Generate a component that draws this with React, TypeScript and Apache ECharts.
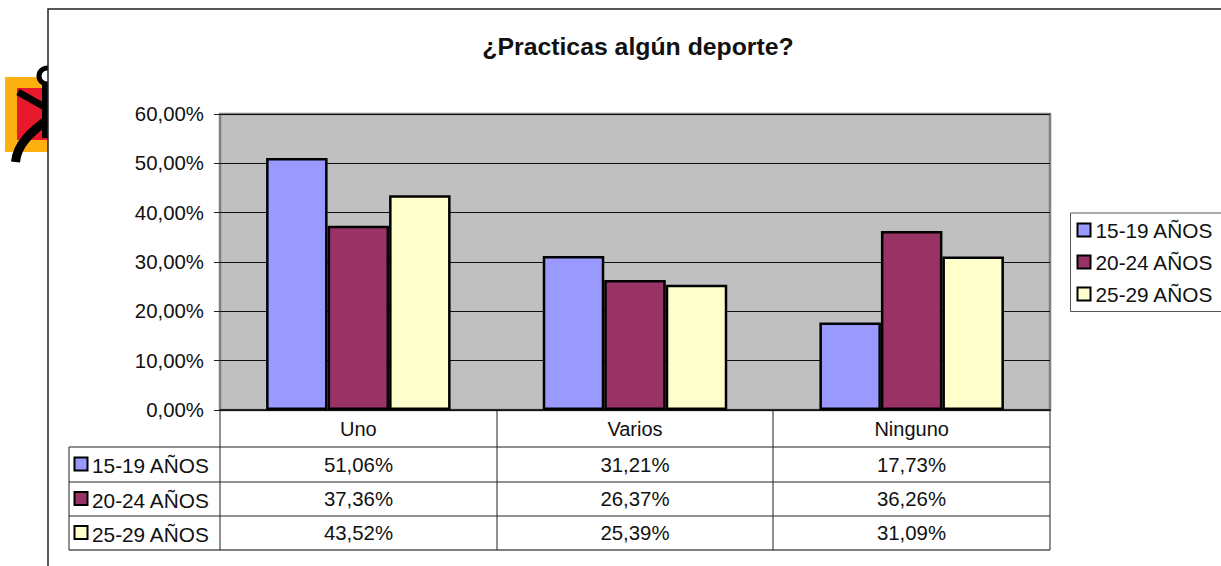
import React, { useEffect, useRef } from "react";
import * as echarts from "echarts";

const titleText = "¿Practicas algún deporte?";
const categories = ["Uno", "Varios", "Ninguno"];
const seriesNames = ["15-19 AÑOS", "20-24 AÑOS", "25-29 AÑOS"];
const values1519 = [51.06, 31.21, 17.73];
const values2024 = [37.36, 26.37, 36.26];
const values2529 = [43.52, 25.39, 31.09];
const seriesColors = ["#9999FF", "#993366", "#FFFFCC"];

const FONT = "'Liberation Sans', Arial, sans-serif";
const fmt = (v: number) => v.toFixed(2).replace(".", ",") + "%";

const X0 = 220, X1 = 1050, Y0 = 114, Y1 = 410;
const colX = [220, 497, 773, 1050];
const rowY = [447, 482, 516, 550];

export default function App() {
  const ref = useRef<HTMLDivElement>(null);
  useEffect(() => {
    document.body.style.margin = "0";
    const chart = echarts.init(ref.current!, null, { renderer: "svg" });
    const allValues = [values1519, values2024, values2529];
    const line = (x1: number, y1: number, x2: number, y2: number, stroke = "#222", lineWidth = 1, z = 0) => ({
      type: "line", z, shape: { x1, y1, x2, y2 }, style: { stroke, lineWidth }, silent: true,
    });
    const graphic: any[] = [
      { type: "rect", z: -9, shape: { x: 5, y: 77, width: 50, height: 75 }, style: { fill: "#FDB010" } },
      { type: "rect", z: -9, shape: { x: 17, y: 88, width: 38, height: 52 }, style: { fill: "#E8192C" } },
      { type: "circle", z: -9, shape: { cx: 47, cy: 76, r: 8 }, style: { fill: "#fff", stroke: "#000", lineWidth: 5 } },
      line(18, 92, 50, 110, "#000", 7, -9),
      line(47, 84, 47, 138, "#000", 10, -9),
      { type: "bezierCurve", z: -9, shape: { x1: 15.5, y1: 162, cpx1: 17, cpy1: 145, cpx2: 30, cpy2: 132, x2: 50, y2: 118 }, style: { stroke: "#000", lineWidth: 9, fill: "none" } },
      { type: "rect", z: -8, shape: { x: 48, y: 9, width: 1300, height: 700 }, style: { fill: "#fff", stroke: "#222", lineWidth: 1.5 } },
      // legend box
      { type: "rect", z: -7, shape: { x: 1070.5, y: 213, width: 170, height: 98.5 }, style: { fill: "#fff", stroke: "#555", lineWidth: 1 } },
      // table lines
      line(69, rowY[0], X1, rowY[0]),
      line(69, rowY[1], X1, rowY[1]),
      line(69, rowY[2], X1, rowY[2]),
      line(69, rowY[3], X1, rowY[3], "#555", 1.5),
      line(69, rowY[0], 69, rowY[3]),
      ...colX.map((x) => line(x, Y1, x, rowY[3])),
    ];
    seriesNames.forEach((name, r) => {
      const cy = (rowY[r] + rowY[r + 1]) / 2;
      graphic.push({
        type: "rect",
        shape: { x: 74.5, y: cy - 7, width: 13, height: 13 },
        style: { fill: seriesColors[r], stroke: "#000", lineWidth: 2 },
      });
      graphic.push({
        type: "text", x: 92, y: cy + 1,
        style: { text: name, font: `20.8px ${FONT}`, fill: "#111", textVerticalAlign: "middle" },
      });
      allValues[r].forEach((v, c) => {
        graphic.push({
          type: "text", x: (colX[c] + colX[c + 1]) / 2, y: cy,
          style: { text: fmt(v), font: `20.4px ${FONT}`, fill: "#111", textAlign: "center", textVerticalAlign: "middle" },
        });
      });
    });
    const bar = (name: string, data: number[], color: string) => ({
      type: "bar", name, data, barWidth: 61.5, barGap: "0%",
      itemStyle: { color, borderColor: "#000", borderWidth: 2.5 },
    });
    chart.setOption({
      animation: false,
      backgroundColor: "#fff",
      textStyle: { fontFamily: FONT },
      title: {
        text: titleText, left: 633, top: 29, textAlign: "center",
        textStyle: { fontFamily: FONT, fontSize: 24.8, fontWeight: "bold", color: "#111" },
      },
      grid: {
        left: X0, top: Y0, width: X1 - X0, height: Y1 - Y0,
        show: true, backgroundColor: "#C0C0C0", borderColor: "#808080", borderWidth: 2.5,
      },
      xAxis: {
        type: "category", data: categories,
        axisLine: { lineStyle: { color: "#111", width: 1.5 } },
        axisTick: { show: false },
        axisLabel: { fontSize: 20, color: "#111", margin: 9, fontFamily: FONT },
      },
      yAxis: {
        type: "value", min: 0, max: 60, interval: 10,
        axisLine: { show: false },
        axisTick: { show: true, length: 6, lineStyle: { color: "#222" } },
        splitLine: { show: true, lineStyle: { color: "#111", width: 1 } },
        axisLabel: { fontSize: 20.4, color: "#111", margin: 16, fontFamily: FONT, formatter: (v: number) => fmt(v) },
      },
      legend: {
        orient: "vertical", left: 1076.5, top: 219, icon: "rect",
        itemWidth: 13, itemHeight: 13, itemGap: 10, padding: 0,
        selectedMode: false,
        data: seriesNames,
        textStyle: { fontSize: 20.8, color: "#111", fontFamily: FONT, padding: [0, 0, 0, 0], lineHeight: 22 },
      },
      graphic: { elements: graphic },
      series: [
        bar(seriesNames[0], values1519, seriesColors[0]),
        bar(seriesNames[1], values2024, seriesColors[1]),
        bar(seriesNames[2], values2529, seriesColors[2]),
      ],
    });
    return () => chart.dispose();
  }, []);
  return <div ref={ref} style={{ width: 1221, height: 566 }} />;
}
